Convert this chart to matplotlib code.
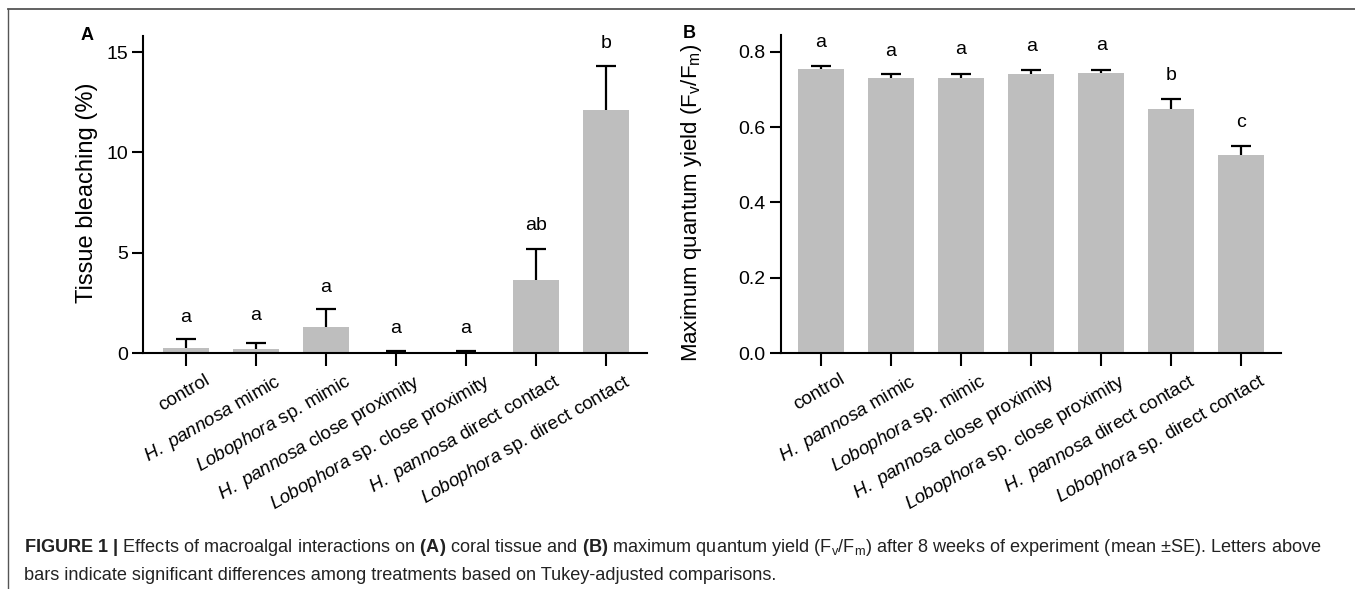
import matplotlib
matplotlib.use("Agg")
import matplotlib.pyplot as plt
import matplotlib.transforms as mtransforms
from matplotlib.lines import Line2D
import numpy as np

plt.rcParams['font.family'] = ['Liberation Sans', 'DejaVu Sans']
plt.rcParams['mathtext.fontset'] = 'custom'
plt.rcParams['mathtext.rm'] = 'Liberation Sans'
plt.rcParams['mathtext.it'] = 'Liberation Sans:italic'
plt.rcParams['mathtext.bf'] = 'Liberation Sans:bold'

# ---------------- data ----------------
categories = [
    "control",
    r"$\mathit{H.\ pannosa}$ mimic",
    r"$\mathit{Lobophora}$ sp. mimic",
    r"$\mathit{H.\ pannosa}$ close proximity",
    r"$\mathit{Lobophora}$ sp. close proximity",
    r"$\mathit{H.\ pannosa}$ direct contact",
    r"$\mathit{Lobophora}$ sp. direct contact",
]
bleach_mean = [0.28, 0.20, 1.29, 0.03, 0.03, 3.65, 12.14]
bleach_upper = [0.70, 0.53, 2.19, 0.09, 0.09, 5.17, 14.33]
bleach_letters = ["a", "a", "a", "a", "a", "ab", "b"]
bleach_letter_y = [1.79, 1.86, 3.28, 1.24, 1.24, 6.38, 15.45]

yield_mean = [0.755, 0.730, 0.732, 0.742, 0.745, 0.649, 0.525]
yield_upper = [0.762, 0.741, 0.741, 0.753, 0.753, 0.674, 0.551]
yield_letters = ["a", "a", "a", "a", "a", "b", "c"]
yield_letter_y = [0.825, 0.801, 0.806, 0.815, 0.818, 0.737, 0.612]

bleach_ticks = [0, 5, 10, 15]
yield_ticks = [0.0, 0.2, 0.4, 0.6, 0.8]

W, H = 1355, 589
fig = plt.figure(figsize=(W / 100, H / 100), dpi=100)

def px_axes(l, r, t, b):
    return fig.add_axes([l / W, 1 - b / H, (r - l) / W, (b - t) / H])

axA = px_axes(143.3, 647.3, 36, 353.3)
axB = px_axes(781, 1280.5, 35, 353)

BAR = '#bebebe'
letter_font = ['Liberation Sans Narrow', 'Liberation Sans']

def draw(ax, mean, upper, letters, ly, ticks, ylim, xlim, fmt):
    x = np.arange(len(mean))
    mean = np.array(mean)
    upper = np.array(upper)
    ax.bar(x, mean, width=0.66, color=BAR, edgecolor='none', zorder=2)
    _, caps, _ = ax.errorbar(x, mean, yerr=[np.zeros_like(mean), upper - mean], fmt='none',
                             ecolor='black', elinewidth=1.6, capsize=7.5, capthick=1.6,
                             zorder=3)
    caps[0].set_visible(False)
    for xi, t, yy in zip(x, letters, ly):
        ax.text(xi, yy, t, ha='center', va='center', fontsize=14, family=letter_font)
    ax.set_xlim(*xlim)
    ax.set_ylim(*ylim)
    ax.set_yticks(ticks)
    ax.set_yticklabels([fmt(t) for t in ticks], fontsize=14)
    for s in ['top', 'right']:
        ax.spines[s].set_visible(False)
    for s in ['left', 'bottom']:
        ax.spines[s].set_linewidth(1.5)
    ax.tick_params(axis='y', length=8, width=1.5, pad=3)
    ax.tick_params(axis='x', length=9, width=1.5, pad=4)
    ax.set_xticks(x)
    ax.set_xticklabels(categories, rotation=30, ha='right', va='top',
                       rotation_mode='anchor', fontsize=13.5)
    off = mtransforms.ScaledTranslation(0.18, 0.0, fig.dpi_scale_trans)
    for lab in ax.get_xticklabels():
        lab.set_transform(lab.get_transform() + off)

draw(axA, bleach_mean, bleach_upper, bleach_letters, bleach_letter_y, bleach_ticks,
     (0, 15.8), (-0.61, 6.59), lambda t: f"{t:d}")
draw(axB, yield_mean, yield_upper, yield_letters, yield_letter_y, yield_ticks,
     (0, 0.845), (-0.571, 6.56), lambda t: f"{t:.1f}")

fig.text(87 / W, 1 - 192.5 / H, "Tissue bleaching (%)", rotation=90,
         ha='center', va='center', fontsize=17)
fig.text(692 / W, 1 - 203 / H,
         r"Maximum quantum yield (F$_\mathregular{v}$/F$_\mathregular{m}$)",
         rotation=90, ha='center', va='center', fontsize=16)

fig.text(87 / W, 1 - 35 / H, "A", ha='center', va='center', fontsize=13, fontweight='bold')
fig.text(689 / W, 1 - 33 / H, "B", ha='center', va='center', fontsize=13, fontweight='bold')

# frame lines
fig.add_artist(Line2D([8 / W, 1], [1 - 9 / H, 1 - 9 / H], color='#555555', lw=1.3,
                      transform=fig.transFigure))
fig.add_artist(Line2D([8 / W, 8 / W], [1 - 9 / H, 0], color='#555555', lw=1.0,
                      transform=fig.transFigure))

cap1 = (r"$\mathbf{FIGURE\ 1\ |}$ Effects of macroalgal interactions on $\mathbf{(A)}$ coral tissue "
        r"and $\mathbf{(B)}$ maximum quantum yield (F$_\mathregular{v}$/F$_\mathregular{m}$) after 8 weeks "
        r"of experiment (mean ±SE). Letters above")
cap2 = "bars indicate significant differences among treatments based on Tukey-adjusted comparisons."
fig.text(24 / W, 1 - 548 / H, cap1, ha='left', va='center', fontsize=13.1, color='#222222')
fig.text(24 / W, 1 - 575 / H, cap2, ha='left', va='center', fontsize=13.1, color='#222222')

fig.savefig("out.png", dpi=100)
